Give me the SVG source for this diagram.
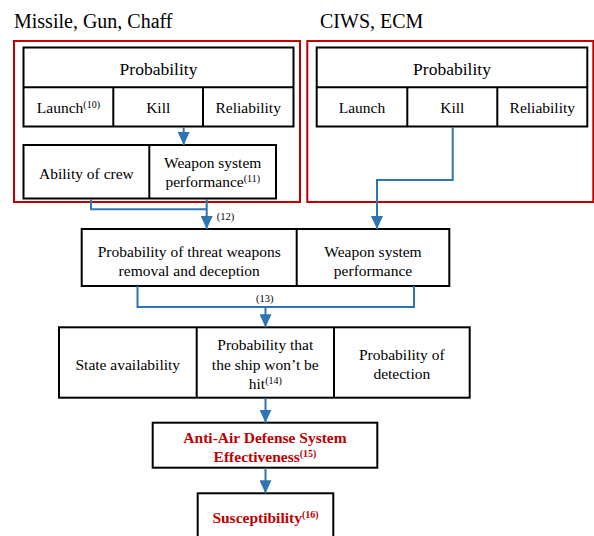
<svg xmlns="http://www.w3.org/2000/svg" width="594" height="536" viewBox="0 0 594 536" font-family="'Liberation Serif', 'DejaVu Serif', serif">
<style>
text{font-family:'Liberation Serif','DejaVu Serif',serif;fill:#000;}
.t{font-size:15.5px;text-anchor:middle;}
.p{font-size:17.5px;text-anchor:middle;}
.h{font-size:20px;}
.s{font-size:10px;}
.r{fill:#c00000;font-weight:bold;}
.box{fill:#fff;stroke:#000;stroke-width:2;}
.ln{fill:none;stroke:#000;stroke-width:2;}
.red{fill:none;stroke:#c00000;stroke-width:2;}
.c{fill:none;stroke:#2e75b6;stroke-width:2;}
.lbl{font-size:10.5px;}
</style>
<defs>
<marker id="ah" markerUnits="userSpaceOnUse" viewBox="0 0 13 12" refX="13" refY="6" markerWidth="13" markerHeight="12" orient="auto">
<path d="M0,0 L13,6 L0,12 z" fill="#2e75b6"/>
</marker>
</defs>
<rect width="594" height="536" fill="#fff"/>
<text class="h" x="14" y="28">Missile, Gun, Chaff</text>
<text class="h" x="320" y="28">CIWS, ECM</text>
<g id="group-left">
<rect class="red" x="14" y="41" width="286" height="161"/>
</g>
<g id="group-right">
<rect class="red" x="307.3" y="41" width="286" height="161"/>
</g>
<g id="prob-left">
<rect class="box" x="23.5" y="47.5" width="270" height="79"/>
<path class="ln" d="M23.5 87.3 H293.5 M113.3 87.3 V126.5 M203 87.3 V126.5"/>
<text class="p" x="158.5" y="75">Probability</text>
<text class="t" x="68.4" y="113">Launch<tspan class="s" dy="-5">(10)</tspan></text>
<text class="t" x="158.2" y="113">Kill</text>
<text class="t" x="248.2" y="113">Reliability</text>
</g>
<g id="crew-weapon">
<rect class="box" x="23.5" y="145" width="252.5" height="53.5"/>
<path class="ln" d="M149.3 145 V198.5"/>
<text class="t" x="86.4" y="179">Ability of crew</text>
<text class="t" x="212.7" y="168">Weapon system</text>
<text class="t" x="212.7" y="187">performance<tspan class="s" dy="-5">(11)</tspan></text>
</g>
<g id="prob-right">
<rect class="box" x="316.7" y="47.5" width="270.6" height="79"/>
<path class="ln" d="M316.7 87.3 H587.3 M407.3 87.3 V126.5 M497.3 87.3 V126.5"/>
<text class="p" x="452" y="75">Probability</text>
<text class="t" x="362" y="113">Launch</text>
<text class="t" x="452.3" y="113">Kill</text>
<text class="t" x="542.3" y="113">Reliability</text>
</g>
<g id="threat-removal">
<rect class="box" x="81.7" y="229" width="367.6" height="57"/>
<path class="ln" d="M296.7 229 V286"/>
<text class="t" x="189.2" y="257">Probability of threat weapons</text>
<text class="t" x="189.2" y="275.5">removal and deception</text>
<text class="t" x="373" y="257">Weapon system</text>
<text class="t" x="373" y="275.5">performance</text>
</g>
<g id="ship-hit">
<rect class="box" x="59" y="327.3" width="410.7" height="70.4"/>
<path class="ln" d="M196.7 327.3 V397.7 M334 327.3 V397.7"/>
<text class="t" x="127.8" y="370">State availability</text>
<text class="t" x="265.3" y="350">Probability that</text>
<text class="t" x="265.3" y="369.5">the ship won’t be</text>
<text class="t" x="265.3" y="389">hit<tspan class="s" dy="-5">(14)</tspan></text>
<text class="t" x="401.8" y="359.5">Probability of</text>
<text class="t" x="401.8" y="379">detection</text>
</g>
<g id="aad">
<rect class="box" x="152.7" y="422.7" width="224.6" height="45"/>
<text class="t r" x="265" y="442.5">Anti-Air Defense System</text>
<text class="t r" x="265" y="461.5">Effectiveness<tspan class="s" dy="-5">(15)</tspan></text>
</g>
<g id="susceptibility">
<rect class="box" x="197.7" y="493.3" width="135.6" height="60"/>
<text class="t r" x="265.5" y="523">Susceptibility<tspan class="s" dy="-5">(16)</tspan></text>
</g>
<g id="connectors">
<path class="c" d="M183.7 127 V145" marker-end="url(#ah)"/>
<path class="c" d="M91 199 V209.3 H206.7 M206.7 199 V229" marker-end="url(#ah)"/>
<path class="c" d="M452.7 127 V180 H377 V229" marker-end="url(#ah)"/>
<path class="c" d="M137.5 286 V307 H414 V286 M265.5 307 V327.3" marker-end="url(#ah)"/>
<path class="c" d="M265.5 398 V422.7" marker-end="url(#ah)"/>
<path class="c" d="M265.5 468 V493.3" marker-end="url(#ah)"/>
<text class="lbl" x="216.7" y="220">(12)</text>
<text class="lbl" x="264.7" y="302" text-anchor="middle">(13)</text>
</g>
</svg>
